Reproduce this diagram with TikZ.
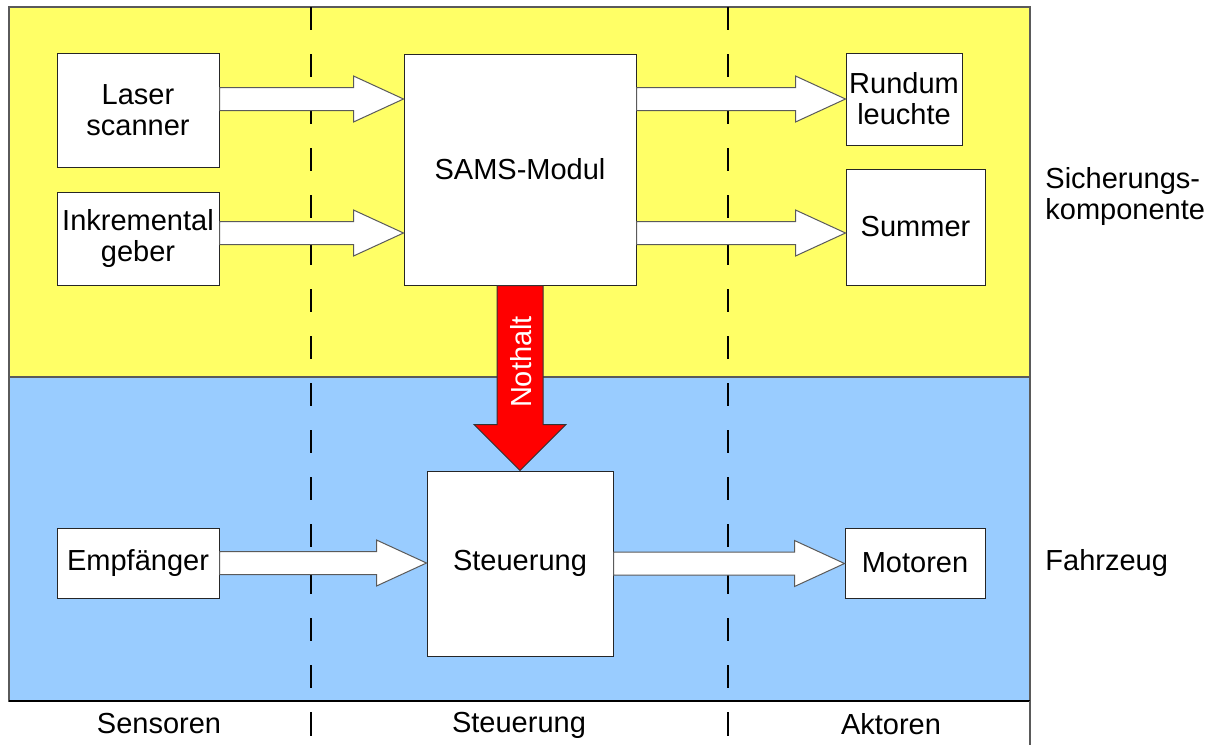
\documentclass[tikz,border=0pt]{standalone}
\usepackage{fontspec}
\setmainfont{Liberation Sans}
\usepackage{xcolor}
\usepackage{tikz}
\usetikzlibrary{calc}
\definecolor{sichgelb}{RGB}{255,255,102}
\definecolor{fzgblau}{RGB}{153,204,255}
\definecolor{randgrau}{RGB}{90,90,90}

% horizontal block arrow: tail point, target node
\newcommand{\blockto}[2]{%
  \path[blockarr] let \p1=#1, \p2=(#2.west) in
    (\x1,\y1+5.75pt) -- (\x2-25pt,\y1+5.75pt) -- (\x2-25pt,\y1+11.5pt) -- (\x2,\y1)
    -- (\x2-25pt,\y1-11.5pt) -- (\x2-25pt,\y1-5.75pt) -- (\x1,\y1-5.75pt) -- cycle;}

\begin{document}
\begin{tikzpicture}[x=0.5pt, y=-0.5pt,
  font=\fontsize{14.5}{15.5}\selectfont,
  blk/.style={draw=black!85, fill=white, line width=0.5pt, inner sep=0pt, align=center},
  blockarr/.style={draw=randgrau, fill=white, line width=0.5pt},
  region/.style={draw=randgrau, line width=0.7pt},
  trenn/.style={line width=1pt, dash pattern=on 11.25pt off 12.25pt}]
  \useasboundingbox (0,0) rectangle (1214,745);
  \draw[region, fill=sichgelb] (9,7) rectangle (1030,377);
  \draw[region, fill=fzgblau] (9,377) rectangle (1030,701);
  \draw[line width=1pt] (9,701) -- (1030,701);
  \draw[region] (1030,701) -- (1030,745);
  \draw[trenn] (311,7) -- (311,701);
  \draw[trenn] (728,7) -- (728,701);
  \draw[line width=1pt] (311,712) -- (311,736);
  \draw[line width=1pt] (728,712) -- (728,736);

  \node[blk, minimum width=81pt, minimum height=57pt] (laser) at (138,110) {Laser\\scanner};
  \node[blk, minimum width=81pt, minimum height=46.5pt] (inkr) at (138,238.5) {Inkremental\\geber};
  \node[blk, minimum width=116pt, minimum height=115.5pt] (sams) at (520,169.5) {SAMS-Modul};
  \node[blk, minimum width=58pt, minimum height=46pt] (rundum) at (904,99) {Rundum\\leuchte};
  \node[blk, minimum width=69.5pt, minimum height=58pt] (summer) at (915.5,227) {Summer};
  \node[blk, minimum width=81pt, minimum height=35pt] (empf) at (138,563) {Empfänger};
  \node[blk, minimum width=93pt, minimum height=92.5pt] (steu) at (520,563.5) {Steuerung};
  \node[blk, minimum width=70pt, minimum height=35pt] (motoren) at (915,563) {Motoren};

  \coordinate (row2) at (0,233);
  \blockto{(laser.east |- rundum.west)}{sams}
  \blockto{(inkr.east |- row2)}{sams}
  \blockto{(sams.east |- rundum.west)}{rundum}
  \blockto{(sams.east |- row2)}{summer}
  \blockto{(empf.east)}{steu}
  \blockto{(steu.east)}{motoren}

  \path[draw=black!80, fill=red, line width=0.5pt] let \p1=(sams.south), \p2=(steu.north) in
    (\x1-11.5pt,\y1) -- (\x1-11.5pt,\y2+23pt) -- (\x1-23pt,\y2+23pt) -- (\x2,\y2)
    -- (\x1+23pt,\y2+23pt) -- (\x1+11.5pt,\y2+23pt) -- (\x1+11.5pt,\y1) -- cycle;
  \node[rotate=90, text=white, inner sep=0pt] (nothalt) at (521,362) {Nothalt};

  \node[anchor=west, align=left, inner sep=0pt] (sich) at (1045,196) {Sicherungs-\\komponente};
  \node[anchor=west, inner sep=0pt] (fahrzeug) at (1045,563) {Fahrzeug};
  \node (sensoren) at (159,724) {Sensoren};
  \node (steuerung) at (519,725) {Steuerung};
  \node (aktoren) at (891,724) {Aktoren};
\end{tikzpicture}
\end{document}
